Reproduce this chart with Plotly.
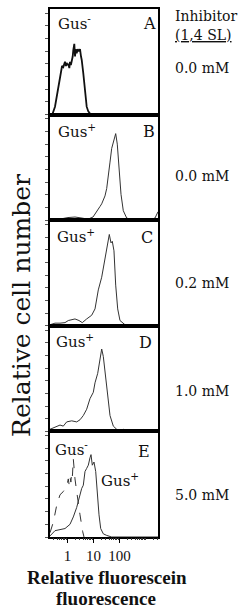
import math
import plotly.graph_objects as go
from plotly.subplots import make_subplots

# ---------------- data (log10 relative fluorescence, relative cell number) -------------
LOG_FL_A = [-0.673, -0.585, -0.481, -0.415, -0.354, -0.30, -0.25, -0.21, -0.162, -0.13,
            -0.096, -0.06, -0.031, 0.0, 0.031, 0.07, 0.096, 0.13, 0.162, 0.20, 0.223,
            0.262, 0.29, 0.315, 0.354, 0.392, 0.43, 0.481, 0.52, 0.546, 0.608, 0.673,
            0.738, 0.80, 0.865, 0.992, 3.481]
COUNT_A = [0.0, 0.0, 0.075, 0.17, 0.26, 0.36, 0.42, 0.46, 0.45, 0.49,
           0.50, 0.46, 0.49, 0.47, 0.48, 0.44, 0.50, 0.47, 0.50, 0.55, 0.61,
           0.67, 0.55, 0.62, 0.58, 0.62, 0.60, 0.62, 0.55, 0.52, 0.39, 0.20,
           0.075, 0.03, 0.01, 0.0, 0.0]

LOG_FL_B = [-0.673, -0.3, 0.019, 0.288, 0.558, 0.788, 0.981, 1.123, 1.25, 1.315, 1.442,
            1.508, 1.569, 1.635, 1.70, 1.80, 1.854, 1.915, 1.981, 2.058, 2.146, 2.277,
            2.469, 2.788, 3.173, 3.365, 3.481]
COUNT_B = [0.005, 0.01, 0.025, 0.03, 0.02, 0.01, 0.03, 0.09, 0.13, 0.155, 0.23,
           0.30, 0.40, 0.55, 0.68, 0.76, 0.82, 0.72, 0.53, 0.245, 0.09, 0.02,
           0.005, 0.005, 0.005, 0.02, 0.08]

LOG_FL_C = [-0.673, -0.481, -0.288, -0.096, 0.031, 0.173, 0.288, 0.442, 0.569, 0.738,
            0.931, 1.058, 1.185, 1.315, 1.442, 1.546, 1.608, 1.673, 1.723, 1.788, 1.854,
            1.931, 2.019, 2.212, 2.596, 3.481]
COUNT_C = [0.01, 0.025, 0.025, 0.03, 0.05, 0.06, 0.065, 0.05, 0.03, 0.065,
           0.10, 0.16, 0.34, 0.46, 0.64, 0.75, 0.865, 0.785, 0.80, 0.71, 0.385,
           0.16, 0.05, 0.01, 0.003, 0.003]

LOG_FL_D = [-0.673, -0.481, -0.288, -0.162, -0.031, 0.162, 0.354, 0.481, 0.608, 0.738,
            0.865, 0.992, 1.058, 1.162, 1.25, 1.315, 1.377, 1.442, 1.546, 1.635, 1.762,
            1.892, 2.019, 2.146, 2.277, 3.481]
COUNT_D = [0.02, 0.04, 0.06, 0.05, 0.09, 0.10, 0.09, 0.11, 0.15, 0.21,
           0.31, 0.37, 0.46, 0.55, 0.71, 0.78, 0.71, 0.58, 0.33, 0.15, 0.05,
           0.02, 0.01, 0.02, 0.0, 0.0]

LOG_FL_E_NEG = [-0.673, -0.546, -0.415, -0.288, -0.162, -0.031, 0.031, 0.06, 0.096, 0.13,
                0.162, 0.19, 0.223, 0.26, 0.288, 0.354, 0.415, 0.481, 0.585, 0.635]
COUNT_E_NEG = [0.04, 0.14, 0.30, 0.40, 0.43, 0.48, 0.55, 0.50, 0.57, 0.52,
               0.62, 0.58, 0.74, 0.60, 0.55, 0.43, 0.30, 0.21, 0.05, 0.0]

LOG_FL_E_POS = [-0.673, -0.608, -0.481, -0.288, -0.096, 0.096, 0.223, 0.354, 0.481, 0.546,
                0.608, 0.673, 0.738, 0.80, 0.865, 0.904, 0.954, 1.019, 1.085, 1.146,
                1.212, 1.277, 1.377, 1.508, 1.70, 3.481]
COUNT_E_POS = [0.01, 0.03, 0.06, 0.07, 0.08, 0.12, 0.19, 0.28, 0.40, 0.46,
               0.49, 0.62, 0.65, 0.68, 0.75, 0.78, 0.68, 0.71, 0.62, 0.40,
               0.21, 0.08, 0.03, 0.015, 0.0, 0.0]

PANEL_LETTERS = ["A", "B", "C", "D", "E"]
PANEL_GUS = ["Gus<sup>-</sup>", "Gus<sup>+</sup>", "Gus<sup>+</sup>", "Gus<sup>+</sup>", "Gus<sup>-</sup>"]
CONCENTRATIONS = ["0.0 mM", "0.0 mM", "0.2 mM", "1.0 mM", "5.0 mM"]
MAJOR_TICKS = [0, 1, 2]
MAJOR_LABELS = ["1", "10", "100"]

# ---------------- layout ----------------
W, H = 241, 609
ML, MR, MT, MB = 50, 83, 7, 72
XR = [-0.673, 3.481]
SERIF = "DejaVu Serif"

fig = make_subplots(rows=5, cols=1, vertical_spacing=0)

series = [
    [(LOG_FL_A, COUNT_A, "#111", 1.8, "solid")],
    [(LOG_FL_B, COUNT_B, "#333", 1.0, "solid")],
    [(LOG_FL_C, COUNT_C, "#333", 1.0, "solid")],
    [(LOG_FL_D, COUNT_D, "#333", 1.0, "solid")],
    [(LOG_FL_E_NEG, COUNT_E_NEG, "#333", 1.0, "dash"),
     (LOG_FL_E_POS, COUNT_E_POS, "#333", 1.0, "solid")],
]
for r, lst in enumerate(series, start=1):
    for xs, ys, col, w, dash in lst:
        fig.add_trace(go.Scatter(x=xs, y=ys, mode="lines",
                                 line=dict(color=col, width=w, dash=dash),
                                 showlegend=False, hoverinfo="skip"), row=r, col=1)

# minor log ticks (positions of 2..9 within each decade, plus 1000)
minor_vals = []
for d in range(-1, 4):
    for k in range(1, 10):
        v = d + math.log10(k)
        if XR[0] <= v <= XR[1] and not (k == 1 and d in MAJOR_TICKS):
            minor_vals.append(v)

for r in range(1, 6):
    xa = dict(range=XR, showline=True, mirror=True, linecolor="black", linewidth=1.5,
              showgrid=False, zeroline=False, fixedrange=True)
    if r == 5:
        xa.update(tickmode="array", tickvals=MAJOR_TICKS, ticktext=MAJOR_LABELS,
                  ticks="outside", tickangle=0, ticklen=4, tickwidth=1, tickcolor="black",
                  ticklabelstandoff=0,
                  tickfont=dict(family="Liberation Serif", size=15, color="#111"))
    else:
        xa.update(showticklabels=False, ticks="")
    fig.update_xaxes(row=r, col=1, **xa)
    fig.update_yaxes(row=r, col=1, range=[0, 1], showline=True, mirror=True,
                     linecolor="black", linewidth=1.5, showgrid=False, zeroline=False,
                     ticks="outside", ticklen=3, tickwidth=1, tickcolor="#555",
                     tick0=0, dtick=0.12, showticklabels=False, fixedrange=True)

# overlay axis carrying only the minor ticks of the bottom panel
fig.add_trace(go.Scatter(x=[], y=[], xaxis="x6", yaxis="y5", showlegend=False,
                         hoverinfo="skip"))
fig.update_layout(xaxis6=dict(overlaying="x5", anchor="y5", side="bottom", range=XR,
                              tickmode="array", tickvals=minor_vals, ticks="outside",
                              ticklen=2, tickwidth=1, tickcolor="#333",
                              showticklabels=False, showline=False, showgrid=False,
                              zeroline=False, fixedrange=True))

PW = W - ML - MR
PH = H - MT - MB


def P(px, py):
    return (px - ML) / PW, (H - MB - py) / PH


ann = []


def add_text(text, px, py, size, xanchor="left", family=SERIF, angle=0):
    x, y = P(px, py)
    ann.append(dict(text=text, x=x, y=y, xref="paper", yref="paper", xanchor=xanchor,
                    yanchor="middle", showarrow=False, textangle=angle, borderpad=0,
                    font=dict(family=family, size=size, color="#111")))


gus_pos = [(57, 21), (57, 129), (56, 235), (55, 340), (54, 449)]
letter_pos = [(157, 22), (156, 130), (154, 236), (153, 342), (151, 451)]
conc_y = [66, 175, 282, 390, 495]
for i in range(5):
    add_text(PANEL_GUS[i], gus_pos[i][0], gus_pos[i][1], 15)
    add_text(PANEL_LETTERS[i], letter_pos[i][0], letter_pos[i][1], 16, xanchor="right")
    add_text(CONCENTRATIONS[i], 174, conc_y[i], 14)
add_text("Gus<sup>+</sup>", 100, 480, 15)
add_text("Inhibitor", 174, 14, 14)
add_text("<u>(1,4 SL)</u>", 174, 33, 14)
add_text("Relative cell number", 22, 305, 25, xanchor="center", angle=-90)
add_text("<b>Relative fluorescein</b>", 107, 578, 19, xanchor="center", family="Liberation Serif")
add_text("<b>fluorescence</b>", 106, 599, 19, xanchor="center", family="Liberation Serif")

fig.update_layout(width=W, height=H, margin=dict(l=ML, r=MR, t=MT, b=MB),
                  paper_bgcolor="white", plot_bgcolor="white", annotations=ann,
                  showlegend=False)

fig.write_html("out.html", config={"displayModeBar": False},
               post_script="document.body.style.margin='0';document.body.style.overflow='hidden';")
